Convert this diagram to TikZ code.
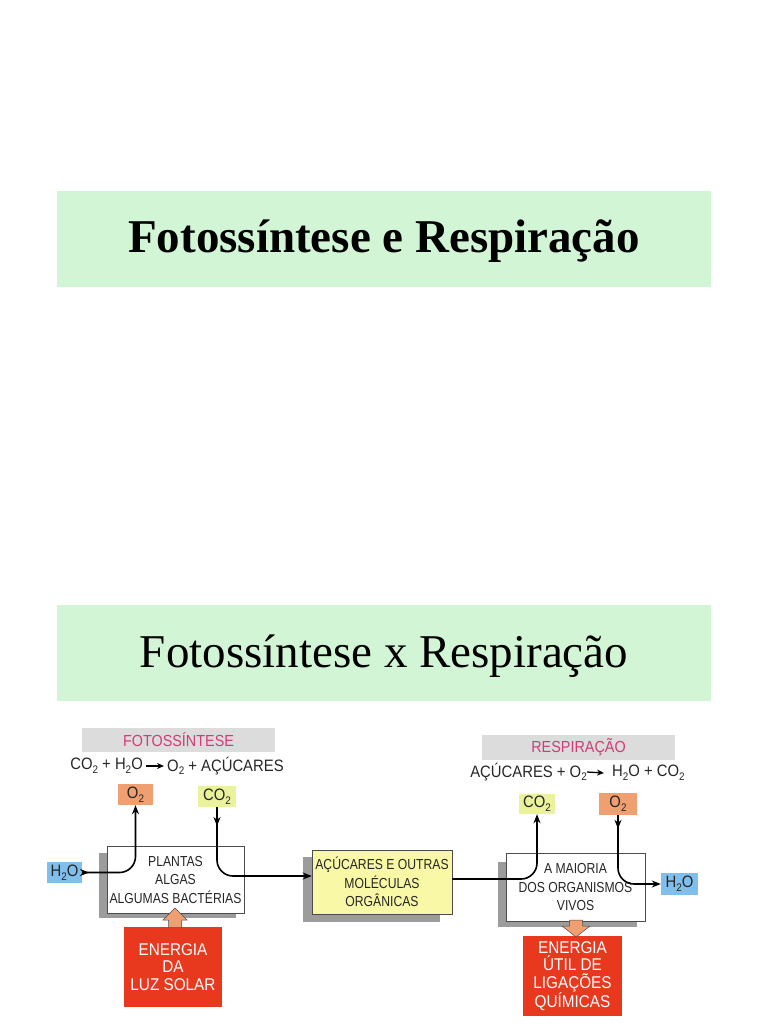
\documentclass[tikz,border=0pt]{standalone}
\usepackage{fontspec}
\setmainfont{Liberation Serif}
\newfontfamily\dsans[FakeStretch=0.9]{Liberation Sans}
\newfontfamily\csans[FakeStretch=0.84]{Liberation Sans}
\usetikzlibrary{arrows.meta,decorations.markings}
\definecolor{titlegreen}{HTML}{D2F5D6}
\definecolor{salmon}{HTML}{F0A070}
\definecolor{ygreen}{HTML}{EAF29A}
\definecolor{wblue}{HTML}{80BEEC}
\definecolor{sugar}{HTML}{F8F8A6}
\definecolor{energyred}{HTML}{E8381E}
\definecolor{pinktxt}{HTML}{D03C78}
\definecolor{bannergray}{HTML}{DCDCDC}
\definecolor{shadowgray}{HTML}{9C9C9C}
\newcommand\sub[1]{\raisebox{-0.22em}{\fontsize{11}{11}\selectfont #1}}
\tikzset{
  titlebox/.style={fill=titlegreen, draw=none, minimum width=654pt, minimum height=96pt, inner sep=0pt},
  dtext/.style={font=\csans\fontsize{14.5}{18.5}\selectfont, text=black!85, align=center, inner sep=0pt},
  bigtext/.style={dtext, font=\dsans\fontsize{16.5}{18}\selectfont},
  procbox/.style={dtext, draw=black!70, line width=0.6pt, fill=white},
  chem/.style={bigtext},
  energy/.style={dtext, fill=energyred, text=white, font=\dsans\fontsize{17}{17.5}\selectfont},
  banner/.style={dtext, fill=bannergray, text=pinktxt, font=\dsans\fontsize{16}{18}\selectfont},
  flow/.style={line width=1.6pt, rounded corners=16pt, -{Stealth[length=9pt,width=7pt]}},
  eqarrow/.style={line width=1.3pt, -{Stealth[length=7pt,width=6pt]}},
  midarrow/.style={postaction={decorate}, decoration={markings, mark=at position #1 with {\arrow{Stealth[length=9pt,width=7pt]}}}},
  blockarrow/.style={fill=salmon, draw=black!70, line width=0.5pt}
}
\begin{document}
\begin{tikzpicture}[x=1pt,y=-1pt]
\useasboundingbox (0,0) rectangle (768,1024);
% title slides
\node[titlebox] (t1) at (384,239) {};
\node[font=\fontsize{47}{50}\selectfont\bfseries] (t1txt) at (384,241) {Fotossíntese e Respiração};
\node[titlebox] (t2) at (384,653) {};
\node[font=\fontsize{47}{50}\selectfont] (t2txt) at (384,656) {Fotossíntese x Respiração};
% banners and equations
\node[banner, minimum width=193pt, minimum height=24pt] (bf) at (178.5,740) {FOTOSSÍNTESE};
\node[bigtext, anchor=east] (eqfl) at (143,766) {CO\sub{2} + H\sub{2}O};
\node[bigtext, anchor=west] (eqfr) at (167,766) {O\sub{2} + AÇÚCARES};
\draw[eqarrow] ([xshift=3pt]eqfl.east) -- ([xshift=-3pt]eqfr.west);
\node[banner, minimum width=193pt, minimum height=25pt] (br) at (578.5,747.5) {RESPIRAÇÃO};
\node[bigtext, anchor=east] (eqrl) at (587,772) {AÇÚCARES + O\sub{2}};
\node[bigtext, anchor=west] (eqrr) at (612,773) {H\sub{2}O + CO\sub{2}};
\draw[eqarrow] ([xshift=0pt]eqrl.east) -- ([xshift=-8pt]eqrr.west);
% shadows
\fill[shadowgray] (99,853) rectangle (236,918);
\fill[shadowgray] (303,857) rectangle (440,922);
\fill[shadowgray] (498,862) rectangle (637,927);
% process boxes
\node[procbox, minimum width=137pt, minimum height=67pt] (pl) at (175.5,879.5) {PLANTAS\\ALGAS\\ALGUMAS BACTÉRIAS};
\node[procbox, fill=sugar, minimum width=140pt, minimum height=64pt] (ac) at (382,882) {AÇÚCARES E OUTRAS\\MOLÉCULAS\\ORGÂNICAS};
\node[procbox, minimum width=139pt, minimum height=68pt] (mo) at (575.5,887) {A MAIORIA\\DOS ORGANISMOS\\VIVOS};
% chemical boxes
\node[chem, fill=salmon, minimum width=35pt, minimum height=21pt] (o2a) at (135.5,794.5) {O\sub{2}};
\node[chem, fill=ygreen, minimum width=38pt, minimum height=21pt] (co2a) at (217,796.5) {CO\sub{2}};
\node[chem, fill=wblue, minimum width=35pt, minimum height=21pt] (h2oa) at (64.5,872.5) {H\sub{2}O};
\node[chem, fill=ygreen, minimum width=36pt, minimum height=20pt] (co2b) at (537,804) {CO\sub{2}};
\node[chem, fill=salmon, minimum width=38pt, minimum height=22pt] (o2b) at (618,804) {O\sub{2}};
\node[chem, fill=wblue, minimum width=37pt, minimum height=22pt] (h2ob) at (679.5,884) {H\sub{2}O};
% energy boxes
\node[energy, minimum width=98pt, minimum height=80pt] (ea) at (173,967) {ENERGIA\\DA\\LUZ SOLAR};
\node[energy, minimum width=99pt, minimum height=80pt] (eb) at (572.5,976) {ENERGIA\\ÚTIL DE\\LIGAÇÕES\\QUÍMICAS};
% block arrows
\draw[blockarrow] (175,908) -- (187,920) -- (181.5,920) -- (181.5,927.5) -- (168.5,927.5) -- (168.5,920) -- (163,920) -- cycle;
\draw[blockarrow] (576,937) -- (590,926) -- (582.5,926) -- (582.5,920) -- (569.5,920) -- (569.5,926) -- (562,926) -- cycle;
% flows
\draw[flow, midarrow=0.06] (h2oa.east) -- (o2a.south |- h2oa.east) -- (o2a.south);
\draw[flow, midarrow=0.12] (co2a.south) -- (co2a.south |- 0,876) -- ([yshift=6pt]ac.west);
\draw[flow] ([yshift=3pt]ac.east) -- (co2b.south |- 0,879) -- (co2b.south);
\draw[flow, midarrow=0.13] (o2b.south) -- (o2b.south |- h2ob.west) -- (h2ob.west);
\end{tikzpicture}
\end{document}
